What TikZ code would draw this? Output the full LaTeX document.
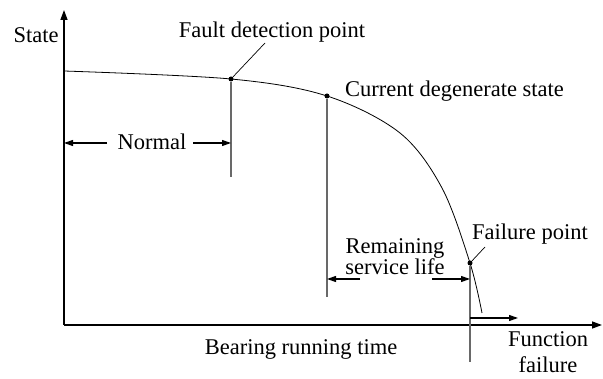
\documentclass[tikz,border=0pt]{standalone}
\usepackage{fontspec}
\setmainfont{Liberation Serif}
\usetikzlibrary{arrows.meta,positioning,calc}
\definecolor{cGuide}{RGB}{105,105,105}
\tikzset{
  lbl/.style={inner sep=0pt,font=\fontsize{22.5}{26}\selectfont},
  tightlbl/.style={inner sep=0pt,align=center,font=\fontsize{22.5}{18}\selectfont},
  axisline/.style={line width=1.4pt,-{Triangle[length=10pt,width=7pt]}},
  guide/.style={line width=1.3pt,color=cGuide},
  curveline/.style={line width=0.8pt},
  dotpt/.style={circle,fill=black,inner sep=0pt,minimum size=5pt},
  arr/.style={-{Triangle[length=9pt,width=6pt]},line width=1.1pt},
  leader/.style={line width=0.7pt}
}

\begin{document}
\begin{tikzpicture}[x=1pt,y=-1pt]
  \useasboundingbox (0,0) rectangle (603,379);

  % axes
  \coordinate (orig) at (64,325);
  \coordinate (ytip) at (64,10);
  \coordinate (xtip) at (602,325);
  \draw[axisline] (orig) -- (ytip);
  \draw[axisline] (orig) -- (xtip);
  \node[lbl,anchor=base] (ylab) at (36,43) {State};
  \node[lbl,anchor=base] (xlab) at (301,355) {Bearing running time};

  % degradation curve
  \draw[curveline] plot[smooth,tension=0.55] coordinates {
    (64,71) (231,79) (327,96) (400,133) (442,188) (470,263) (482,313)};

  % marked points
  \node[dotpt] (fdp) at (231,79) {};
  \node[dotpt] (cds) at (327,96) {};
  \node[dotpt] (fp) at (470,263) {};

  % guide lines
  \coordinate (fdpfoot) at (231,177);
  \coordinate (cdsfoot) at (327,297);
  \coordinate (fpfoot) at (470,362);
  \draw[guide] (fdp) -- (fdpfoot);
  \draw[guide] (cds) -- (cdsfoot);
  \draw[guide] (fp) -- (fpfoot);

  % labels
  \node[lbl,anchor=base] (fdplab) at (272,38) {Fault detection point};
  \coordinate (fdpend) at (265,43);
  \draw[leader] (fdp) -- (fdpend);
  \node[lbl,anchor=base west] (cdslab) at (345,97) {Current degenerate state};
  \node[lbl,anchor=base west] (fplab) at (472,240) {Failure point};
  \coordinate (fpend) at (485,247);
  \draw[leader] (fp) -- (fpend);

  % normal span
  \node[lbl,anchor=base] (normal) at (152,150) {Normal};
  \coordinate (nl) at (107,143);
  \coordinate (nr) at (193,143);
  \draw[arr] (nl) -- (64,143);
  \draw[arr] (nr) -- (231,143);

  % remaining service life
  \node[tightlbl,anchor=base] (rsl) at (395,275) {Remaining\\service life};
  \coordinate (rl) at (360,279);
  \coordinate (rr) at (432,279);
  \draw[arr] (rl) -- (327,279);
  \draw[arr] (rr) -- (470,279);

  % function failure
  \coordinate (ffs) at (470,318);
  \coordinate (ffe) at (518,318);
  \draw[arr] (ffs) -- (ffe);
  \node[lbl,anchor=base,align=center] (fflab) at (548,373) {Function\\failure};
\end{tikzpicture}
\end{document}
